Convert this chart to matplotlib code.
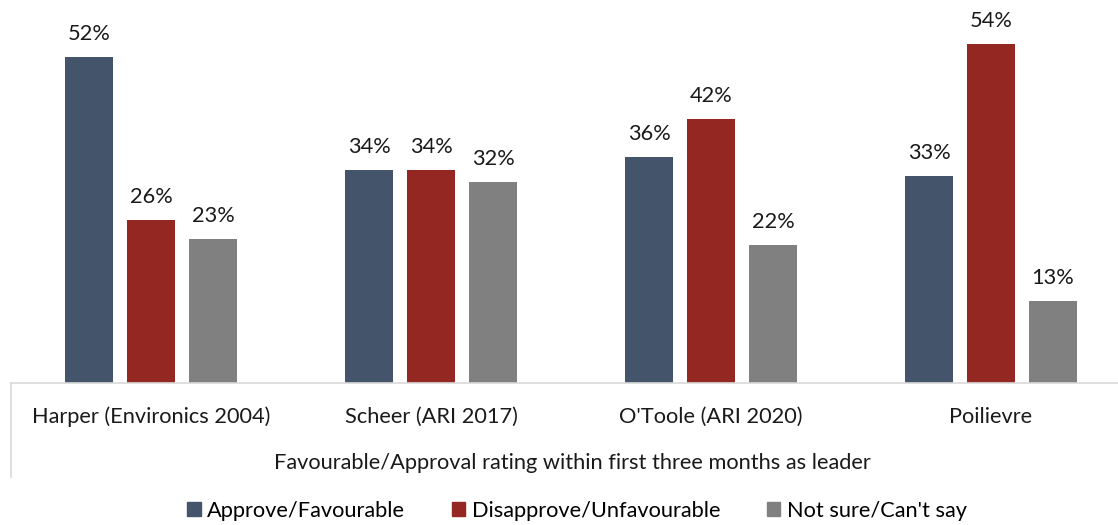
import numpy as np
import matplotlib.pyplot as plt
from matplotlib.lines import Line2D

# Data.
leaders = ['Harper (Environics 2004)', 'Scheer (ARI 2017)', "O'Toole (ARI 2020)", 'Poilievre']
approve = [52, 34, 36, 33]
disapprove = [26, 34, 42, 54]
not_sure = [23, 32, 22, 13]
series_names = ['Approve/Favourable', 'Disapprove/Unfavourable', "Not sure/Can't say"]
colors = ['#44546A', '#952723', '#808080']
xtitle = 'Favourable/Approval rating within first three months as leader'

plt.rcParams['font.family'] = ['Lato', 'DejaVu Sans']
FS = 15.7
TXT = '#1a1a1a'

W, H = 1118, 525
fig = plt.figure(figsize=(W / 100, H / 100), dpi=100)

# Axes in pixel terms: baseline at y=383, categories 280 px wide starting at x=11.
ax = fig.add_axes([11 / W, (H - 383) / H, 1120 / W, 383 / H])

x = np.arange(len(leaders))
bw = 48 / 280
step = 62 / 280
for i, (vals, c) in enumerate(zip([approve, disapprove, not_sure], colors)):
    pos = x + (i - 1) * step
    bars = ax.bar(pos, vals, width=bw, color=c, label=series_names[i])
    for b, v in zip(bars, vals):
        ax.annotate(f'{v}%', (b.get_x() + b.get_width() / 2, v),
                    xytext=(0, 17), textcoords='offset pixels',
                    ha='center', va='baseline', fontsize=FS, color=TXT)

ax.set_xlim(-0.5, len(leaders) - 0.5)
ax.set_ylim(0, 61)
ax.set_yticks([])
for s in ['top', 'right', 'left']:
    ax.spines[s].set_visible(False)
ax.spines['bottom'].set_color('#D9D9D9')
ax.spines['bottom'].set_linewidth(1.2)

ax.set_xticks(x)
ax.set_xticklabels(leaders, fontsize=FS, color=TXT, va='baseline')
ax.tick_params(axis='x', length=0, pad=40 * 0.72)

# Axis title (category axis title, centred under the full axis).
fig.text(572 / W, 1 - 469 / H, xtitle, ha='center', va='baseline', fontsize=FS, color=TXT)

# Left category-axis separator line.
fig.add_artist(Line2D([11 / W, 11 / W], [(H - 383) / H, (H - 477) / H],
                      transform=fig.transFigure, color='#D9D9D9', linewidth=1.2))

handles = [plt.Rectangle((0, 0), 1, 1, color=c) for c in colors]
fig.legend(handles, series_names, loc='center', bbox_to_anchor=(577 / W, 1 - 511 / H),
           ncol=3, frameon=False, fontsize=FS, handlelength=0.6, handleheight=0.6,
           handletextpad=0.3, columnspacing=2.15, borderpad=0, borderaxespad=0)

fig.savefig('out.png', dpi=100)
